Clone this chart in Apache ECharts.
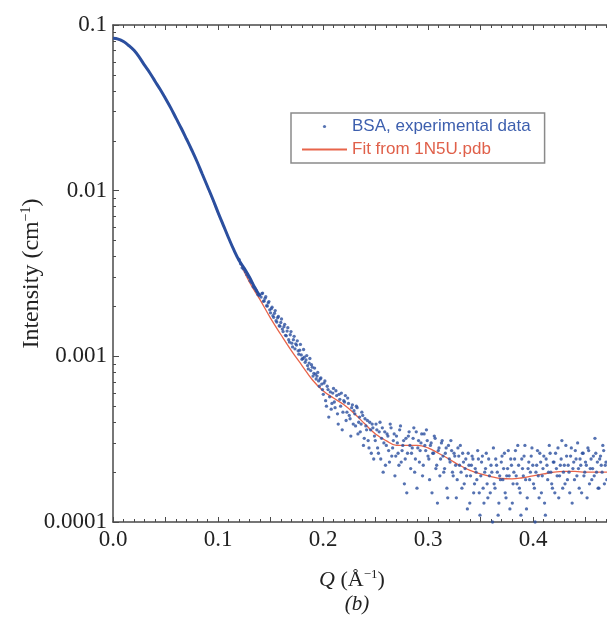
<!DOCTYPE html>
<html>
<head>
<meta charset="utf-8">
<script src="https://cdn.jsdelivr.net/npm/echarts@6/dist/echarts.min.js"></script>
<style>
html,body{margin:0;padding:0;background:#fff;}
#chart{width:607px;height:623px;}
</style>
</head>
<body>
<div id="chart"></div>
<script>
// ---- Fit curve (from 1N5U.pdb) ----
const qFit = [0.00,0.01,0.02,0.03,0.04,0.05,0.06,0.07,0.08,0.09,0.10,0.11,0.12,0.13,0.14,0.15,0.16,0.17,0.18,0.19,0.20,0.21,0.22,0.23,0.24,0.25,0.26,0.27,0.28,0.29,0.30,0.31,0.32,0.33,0.34,0.35,0.36,0.37,0.38,0.39,0.40,0.41,0.42,0.43,0.44,0.45,0.46,0.47,0.48,0.49,0.50];
const iFit = [0.0830,0.0790,0.0700,0.0570,0.0460,0.0360,0.0275,0.0205,0.0150,0.0105,0.0073,0.0052,0.0038,0.0028,0.0022,0.00170,0.00135,0.00108,0.00088,0.00072,0.00062,0.00056,0.00051,0.00045,0.00039,0.00034,0.00031,0.00029,0.00029,0.00029,0.00028,0.00026,0.00024,0.00022,0.000205,0.000195,0.000188,0.000183,0.000182,0.000185,0.00019,0.000195,0.00020,0.000202,0.000202,0.00020,0.00020,0.00020,0.00020,0.00020,0.00020];

// ---- Experimental data, low Q (dense, overlapping points) ----
const qLow = [0.000,0.005,0.010,0.015,0.020,0.025,0.030,0.035,0.040,0.045,0.050,0.055,0.060,0.065,0.070,0.075,0.080,0.085,0.090,0.095,0.100,0.105,0.110,0.115,0.120,0.125,0.130,0.135,0.140];
const iLow = [0.0832,0.0822,0.0795,0.0752,0.0703,0.0640,0.0572,0.0515,0.0458,0.0408,0.0360,0.0316,0.0274,0.0238,0.0205,0.0176,0.0150,0.0126,0.0106,0.0089,0.0074,0.0062,0.0052,0.0044,0.0038,0.0034,0.0030,0.0026,0.0023];

// ---- Experimental data, higher Q (noisy points), set A ----
const qExp = [
0.1200,0.1215,0.1230,0.1245,0.1260,0.1275,0.1290,0.1305,0.1320,0.1335,0.1350,0.1365,0.1380,0.1395,
0.1410,0.1425,0.1440,0.1455,0.1470,0.1485,0.1500,0.1515,0.1530,0.1545,0.1560,0.1575,0.1590,0.1605,0.1620,0.1635,0.1650,0.1665,0.1680,0.1695,0.1710,0.1725,0.1740,0.1755,0.1770,0.1785,0.1800,0.1815,0.1830,0.1845,0.1860,0.1875,0.1890,0.1905,0.1920,0.1935,0.1950,0.1965,0.1980,0.1995,
0.2010,0.2025,0.2040,0.2055,0.2070,0.2085,0.2100,0.2115,0.2130,0.2145,0.2160,0.2175,0.2190,0.2205,0.2220,0.2235,0.2250,0.2265,0.2280,0.2295,0.2310,0.2325,0.2340,0.2355,0.2370,0.2385,0.2400,0.2415,0.2430,0.2445,0.2460,0.2475,0.2490,
0.2505,0.2520,0.2535,0.2550,0.2565,0.2580,0.2595,0.2610,0.2625,0.2640,0.2655,0.2670,0.2685,0.2700,0.2715,0.2730,0.2745,0.2760,0.2775,0.2790,0.2805,0.2820,0.2835,0.2850,0.2865,0.2880,0.2895,0.2910,0.2925,0.2940,0.2955,0.2970,0.2985,0.3000,0.3015,0.3030,0.3045,0.3060,0.3075,0.3090,0.3105,0.3120,0.3135,0.3150,0.3165,0.3180,0.3195,0.3210,0.3225,0.3240,0.3255,0.3270,0.3285,0.3300,0.3315,0.3330,0.3345,0.3360,0.3375,0.3390,0.3405,0.3420,0.3435,0.3450,0.3465,0.3480,0.3495,
0.3510,0.3525,0.3540,0.3555,0.3570,0.3585,0.3600,0.3615,0.3630,0.3645,0.3660,0.3675,0.3690,0.3705,0.3720,0.3735,0.3750,0.3765,0.3780,0.3795,0.3810,0.3825,0.3840,0.3855,0.3870,0.3885,0.3900,0.3915,0.3930,0.3945,0.3960,0.3975,0.3990,0.4005,0.4020,0.4035,0.4050,0.4065,0.4080,0.4095,0.4110,0.4125,0.4140,0.4155,0.4170,0.4185,0.4200,0.4215,0.4230,0.4245,0.4260,0.4275,0.4290,0.4305,0.4320,0.4335,0.4350,0.4365,0.4380,0.4395,0.4410,0.4425,0.4440,0.4455,0.4470,0.4485,0.4500,0.4515,0.4530,0.4545,0.4560,0.4575,0.4590,0.4605,0.4620,0.4635,0.4650,0.4665,0.4680,0.4695
];
const iExp = [
38.5e-4,36.2e-4,34.2e-4,33.6e-4,32.4e-4,31.1e-4,30.1e-4,28.6e-4,27.9e-4,26.3e-4,25.8e-4,24.9e-4,23.6e-4,23.5e-4,
22.8e-4,24.1e-4,21.6e-4,22.9e-4,20.1e-4,21.4e-4,18.3e-4,19.8e-4,17.2e-4,18.9e-4,16.1e-4,17.4e-4,15.2e-4,16.8e-4,14.1e-4,15.6e-4,13.3e-4,14.9e-4,12.2e-4,14.1e-4,11.4e-4,13.2e-4,11.9e-4,12.4e-4,10.3e-4,11.8e-4,9.6e-4,11.0e-4,9.2e-4,10.1e-4,8.4e-4,9.7e-4,8.9e-4,7.6e-4,8.5e-4,7.3e-4,8.0e-4,6.6e-4,7.4e-4,6.3e-4,
6.9e-4,5.4e-4,6.6e-4,4.3e-4,6.1e-4,5.2e-4,6.4e-4,4.9e-4,5.8e-4,3.9e-4,5.5e-4,6.0e-4,4.6e-4,5.3e-4,4.1e-4,5.6e-4,4.4e-4,3.3e-4,5.1e-4,4.7e-4,3.8e-4,4.9e-4,4.0e-4,3.5e-4,4.6e-4,2.9e-4,4.2e-4,3.6e-4,3.1e-4,4.0e-4,2.6e-4,3.7e-4,3.3e-4,
3.9e-4,2.8e-4,3.5e-4,2.4e-4,3.7e-4,3.0e-4,2.2e-4,3.4e-4,2.7e-4,3.9e-4,2.5e-4,3.1e-4,1.9e-4,3.3e-4,2.6e-4,3.6e-4,2.3e-4,2.9e-4,1.7e-4,3.2e-4,2.6e-4,3.5e-4,2.1e-4,2.8e-4,3.7e-4,2.4e-4,1.6e-4,3.1e-4,2.7e-4,3.4e-4,2.2e-4,2.9e-4,3.6e-4,2.5e-4,1.8e-4,3.0e-4,2.6e-4,3.3e-4,2.1e-4,1.3e-4,2.8e-4,2.4e-4,3.1e-4,2.0e-4,2.6e-4,1.6e-4,2.9e-4,2.3e-4,2.7e-4,1.9e-4,2.5e-4,1.4e-4,2.8e-4,2.2e-4,2.0e-4,2.6e-4,1.7e-4,2.4e-4,1.2e-4,2.2e-4,1.9e-4,2.5e-4,1.5e-4,2.1e-4,1.8e-4,2.4e-4,1.1e-4,
2.3e-4,1.6e-4,2.0e-4,2.6e-4,1.4e-4,1.9e-4,2.2e-4,1.0e-4,1.7e-4,2.4e-4,2.0e-4,1.3e-4,1.8e-4,2.5e-4,2.1e-4,1.5e-4,1.9e-4,2.7e-4,1.2e-4,2.2e-4,1.7e-4,2.4e-4,1.9e-4,2.9e-4,1.6e-4,1.1e-4,2.1e-4,2.5e-4,1.8e-4,1.4e-4,2.3e-4,2.0e-4,2.8e-4,1.7e-4,1.0e-4,2.2e-4,1.9e-4,2.6e-4,1.5e-4,2.1e-4,1.3e-4,2.4e-4,1.8e-4,2.9e-4,2.0e-4,1.6e-4,2.3e-4,2.6e-4,1.9e-4,1.4e-4,2.2e-4,3.1e-4,2.0e-4,1.7e-4,2.5e-4,2.2e-4,1.5e-4,2.8e-4,2.1e-4,1.8e-4,2.4e-4,3.0e-4,1.6e-4,2.2e-4,2.6e-4,1.9e-4,2.3e-4,1.4e-4,2.7e-4,2.1e-4,1.8e-4,2.5e-4,3.2e-4,2.0e-4,1.6e-4,2.4e-4,2.2e-4,2.9e-4,1.7e-4,2.3e-4
];

// ---- Experimental data, higher Q (noisy points), set B (interleaved) ----
const qExpB = [
0.1418,0.1433,0.1448,0.1463,0.1478,0.1493,0.1508,0.1523,0.1538,0.1553,0.1568,0.1583,0.1598,0.1613,0.1628,0.1643,0.1658,0.1673,0.1688,0.1703,0.1718,0.1733,0.1748,0.1763,0.1778,0.1793,0.1808,0.1823,0.1838,0.1853,0.1868,0.1883,0.1898,0.1913,0.1928,0.1943,0.1958,0.1973,0.1988,
0.2003,0.2018,0.2033,0.2048,0.2063,0.2078,0.2093,0.2108,0.2123,0.2138,0.2153,0.2168,0.2183,0.2198,0.2213,0.2228,0.2243,0.2258,0.2273,0.2288,0.2303,0.2318,0.2333,0.2348,0.2363,0.2378,0.2393,0.2408,0.2423,0.2438,0.2453,0.2468,0.2483,
0.2498,0.2513,0.2528,0.2543,0.2558,0.2573,0.2588,0.2603,0.2618,0.2633,0.2648,0.2663,0.2678,0.2693,0.2708,0.2723,0.2738,0.2753,0.2768,0.2783,0.2798,0.2813,0.2828,0.2843,0.2858,0.2873,0.2888,0.2903,0.2918,0.2933,0.2948,0.2963,0.2978,0.2993,0.3008,0.3023,0.3038,0.3053,0.3068,0.3083,0.3098,0.3113,0.3128,0.3143,0.3158,0.3173,0.3188,0.3203,0.3218,0.3233,0.3248,0.3263,0.3278,0.3293,0.3308,0.3323,0.3338,0.3353,0.3368,0.3383,0.3398,0.3413,0.3428,0.3443,0.3458,0.3473,0.3488,
0.3503,0.3518,0.3533,0.3548,0.3563,0.3578,0.3593,0.3608,0.3623,0.3638,0.3653,0.3668,0.3683,0.3698,0.3713,0.3728,0.3743,0.3758,0.3773,0.3788,0.3803,0.3818,0.3833,0.3848,0.3863,0.3878,0.3893,0.3908,0.3923,0.3938,0.3953,0.3968,0.3983,0.3998,0.4013,0.4028,0.4043,0.4058,0.4073,0.4088,0.4103,0.4118,0.4133,0.4148,0.4163,0.4178,0.4193,0.4208,0.4223,0.4238,0.4253,0.4268,0.4283,0.4298,0.4313,0.4328,0.4343,0.4358,0.4373,0.4388,0.4403,0.4418,0.4433,0.4448,0.4463,0.4478,0.4493,0.4508,0.4523,0.4538,0.4553,0.4568,0.4583,0.4598,0.4613,0.4628,0.4643,0.4658,0.4673,0.4688,0.4703
];
const iExpB = [
23.9e-4,21.5e-4,22.4e-4,20.2e-4,21.0e-4,19.1e-4,19.4e-4,17.6e-4,18.2e-4,16.4e-4,17.1e-4,15.3e-4,16.0e-4,14.6e-4,15.1e-4,13.4e-4,14.2e-4,12.6e-4,13.5e-4,12.0e-4,12.6e-4,11.1e-4,11.7e-4,10.8e-4,10.9e-4,10.2e-4,9.7e-4,9.9e-4,9.5e-4,8.8e-4,9.1e-4,8.2e-4,8.6e-4,7.9e-4,7.8e-4,7.6e-4,7.1e-4,7.3e-4,6.8e-4,
5.9e-4,7.1e-4,5.0e-4,6.3e-4,5.7e-4,4.8e-4,6.0e-4,5.3e-4,6.2e-4,4.5e-4,5.9e-4,5.0e-4,3.6e-4,5.4e-4,5.8e-4,4.6e-4,5.2e-4,4.2e-4,4.9e-4,3.9e-4,4.5e-4,5.0e-4,3.4e-4,4.3e-4,3.9e-4,4.4e-4,3.2e-4,3.8e-4,4.1e-4,2.8e-4,3.6e-4,3.9e-4,2.4e-4,
3.1e-4,3.6e-4,2.6e-4,4.0e-4,3.2e-4,2.0e-4,3.5e-4,2.9e-4,3.3e-4,2.3e-4,3.7e-4,2.8e-4,3.4e-4,2.5e-4,3.0e-4,2.2e-4,3.8e-4,2.7e-4,3.1e-4,2.4e-4,1.5e-4,3.3e-4,2.9e-4,2.6e-4,3.2e-4,2.0e-4,3.5e-4,2.8e-4,2.3e-4,3.0e-4,1.9e-4,3.4e-4,2.7e-4,3.1e-4,2.4e-4,2.9e-4,1.5e-4,2.6e-4,3.2e-4,2.2e-4,2.7e-4,1.9e-4,3.0e-4,2.5e-4,2.1e-4,2.8e-4,1.4e-4,2.4e-4,3.1e-4,2.0e-4,2.6e-4,2.2e-4,1.8e-4,2.5e-4,2.9e-4,1.6e-4,2.3e-4,2.1e-4,1.9e-4,2.6e-4,1.3e-4,2.2e-4,2.4e-4,1.7e-4,2.0e-4,2.7e-4,1.5e-4,
1.9e-4,2.5e-4,1.3e-4,2.1e-4,1.7e-4,2.4e-4,1.5e-4,2.0e-4,2.8e-4,1.6e-4,2.2e-4,1.1e-4,1.9e-4,2.3e-4,1.8e-4,2.6e-4,1.4e-4,2.1e-4,1.9e-4,2.4e-4,1.3e-4,2.0e-4,2.7e-4,1.7e-4,2.2e-4,1.5e-4,2.4e-4,1.9e-4,2.9e-4,1.2e-4,2.1e-4,1.8e-4,2.5e-4,2.2e-4,1.6e-4,2.0e-4,2.7e-4,1.4e-4,2.3e-4,1.9e-4,2.5e-4,1.1e-4,2.2e-4,2.0e-4,2.6e-4,1.7e-4,2.3e-4,1.5e-4,2.1e-4,2.8e-4,1.9e-4,2.4e-4,1.6e-4,2.2e-4,2.9e-4,1.8e-4,2.0e-4,2.5e-4,1.3e-4,2.3e-4,2.7e-4,1.9e-4,2.1e-4,2.4e-4,1.5e-4,2.6e-4,2.0e-4,2.2e-4,2.8e-4,1.7e-4,2.4e-4,2.1e-4,1.9e-4,2.6e-4,2.3e-4,1.6e-4,2.5e-4,2.0e-4,2.7e-4,2.2e-4,1.8e-4
];

// ---- Axis ticks / labels ----
const xLabelValues = [0.0, 0.1, 0.2, 0.3, 0.4, 0.5];
const xTickLabels = ['0.0', '0.1', '0.2', '0.3', '0.4', '0.5'];
const yLabelValues = [0.0001, 0.001, 0.01, 0.1];
const yTickLabels = ['0.0001', '0.001', '0.01', '0.1'];
const yMinorTicks = [];
[0.0001, 0.001, 0.01].forEach(d => { for (let k = 2; k <= 9; k++) yMinorTicks.push(+(d * k).toPrecision(3)); });

const legendNames = ['BSA, experimental data', 'Fit from 1N5U.pdb'];

const pair = (xs, ys) => xs.map((x, i) => [x, ys[i]]);

const blue = '#2b4f9f';
const red = '#e8644a';
const axisColor = '#4a4a4a';
const serif = '"Liberation Serif", "Times New Roman", serif';

const chart = echarts.init(document.getElementById('chart'), null, {renderer: 'canvas'});

const xBase = {
  type: 'value', min: 0, max: 0.5, interval: 0.05,
  axisLine: {show: true, lineStyle: {color: axisColor, width: 1.5}},
  axisTick: {show: true, inside: true, length: 5, lineStyle: {color: axisColor, width: 1}},
  minorTick: {show: true, splitNumber: 5, length: 3, lineStyle: {color: axisColor, width: 1}},
  splitLine: {show: false}, minorSplitLine: {show: false}
};

chart.setOption({
  animation: false,
  backgroundColor: '#fff',
  grid: {left: 113, top: 25, width: 525, height: 497, containLabel: false, outerBoundsMode: 'none'},
  legend: {
    orient: 'vertical', left: 291, top: 113,
    padding: [5, 14, 5, 10], itemGap: 6,
    itemWidth: 45, itemHeight: 10,
    borderColor: '#8a8a8a', borderWidth: 1.5,
    backgroundColor: '#fff',
    symbolKeepAspect: true,
    textStyle: {fontFamily: '"Liberation Sans", Arial, sans-serif', fontSize: 17},
    data: [
      {name: legendNames[0], icon: 'path://M0,0M10,10M3.4,5a1.6,1.6 0 1,0 3.2,0a1.6,1.6 0 1,0 -3.2,0z', itemStyle: {color: blue}, textStyle: {color: '#3d5fae'}},
      {name: legendNames[1], itemStyle: {opacity: 0}, textStyle: {color: '#e0604a'}}
    ]
  },
  xAxis: [
    Object.assign({}, xBase, {
      position: 'bottom',
      axisLabel: {
        show: true, customValues: xLabelValues, margin: 6,
        formatter: v => { const i = xLabelValues.findIndex(t => Math.abs(t - v) < 1e-9); return i >= 0 ? xTickLabels[i] : ''; },
        color: '#222', fontFamily: serif, fontSize: 23
      },
      name: '{i|Q} ({t|Å}{s|−1}{t|)}',
      nameLocation: 'middle', nameGap: 46, nameMoveOverlap: false,
      nameTextStyle: {
        fontFamily: serif, fontSize: 22, color: '#222', padding: [0, 47, 0, 0],
        rich: {
          i: {fontFamily: serif, fontSize: 22, fontStyle: 'italic', color: '#222', lineHeight: 24},
          t: {fontFamily: serif, fontSize: 22, color: '#222', lineHeight: 24},
          s: {fontFamily: serif, fontSize: 13, color: '#222', lineHeight: 14, verticalAlign: 'top'}
        }
      }
    }),
    Object.assign({}, xBase, {position: 'top', axisLabel: {show: false}})
  ],
  yAxis: [
    {
      type: 'log', logBase: 10, min: 0.0001, max: 0.1,
      axisLine: {show: true, lineStyle: {color: axisColor, width: 1.5}},
      axisTick: {show: true, inside: true, length: 6, customValues: yLabelValues, lineStyle: {color: axisColor, width: 1}},
      axisLabel: {
        show: true, customValues: yLabelValues, margin: 6,
        formatter: v => { const i = yLabelValues.findIndex(t => Math.abs(Math.log10(t) - Math.log10(v)) < 1e-6); return i >= 0 ? yTickLabels[i] : ''; },
        color: '#222', fontFamily: serif, fontSize: 23
      },
      splitLine: {show: false},
      name: '{t|Intensity (cm}{s|−1}{t|)}',
      nameLocation: 'middle', nameGap: 68, nameRotate: 90, nameMoveOverlap: false,
      nameTextStyle: {
        fontFamily: serif, fontSize: 24, color: '#222',
        rich: {
          t: {fontFamily: serif, fontSize: 24, color: '#222', lineHeight: 26},
          s: {fontFamily: serif, fontSize: 14, color: '#222', lineHeight: 15, verticalAlign: 'top'}
        }
      }
    },
    {
      type: 'log', logBase: 10, min: 0.0001, max: 0.1, position: 'left',
      axisLine: {show: false},
      axisTick: {show: true, inside: true, length: 3, customValues: yMinorTicks, lineStyle: {color: axisColor, width: 1}},
      axisLabel: {show: false},
      splitLine: {show: false}
    }
  ],
  title: {
    text: '(b)', left: 352, top: 589, textAlign: 'center',
    textStyle: {fontFamily: serif, fontSize: 21, fontStyle: 'italic', fontWeight: 'normal', color: '#222'}
  },
  series: [
    {
      name: legendNames[0], type: 'scatter', xAxisIndex: 0, yAxisIndex: 0,
      data: pair(qExp, iExp).concat(pair(qExpB, iExpB)), symbol: 'circle', symbolSize: 3.3,
      itemStyle: {color: blue}, z: 3
    },
    {
      name: legendNames[1], type: 'line', xAxisIndex: 0, yAxisIndex: 0,
      data: pair(qFit, iFit), smooth: 0.4, symbol: 'none',
      lineStyle: {color: red, width: 1.3}, itemStyle: {color: red}, z: 2
    },
    {
      name: legendNames[0], type: 'line', xAxisIndex: 0, yAxisIndex: 0,
      data: pair(qLow, iLow), smooth: 0.4, symbol: 'none',
      lineStyle: {color: blue, width: 3}, itemStyle: {color: blue}, z: 3
    }
  ]
});
</script>
</body>
</html>
